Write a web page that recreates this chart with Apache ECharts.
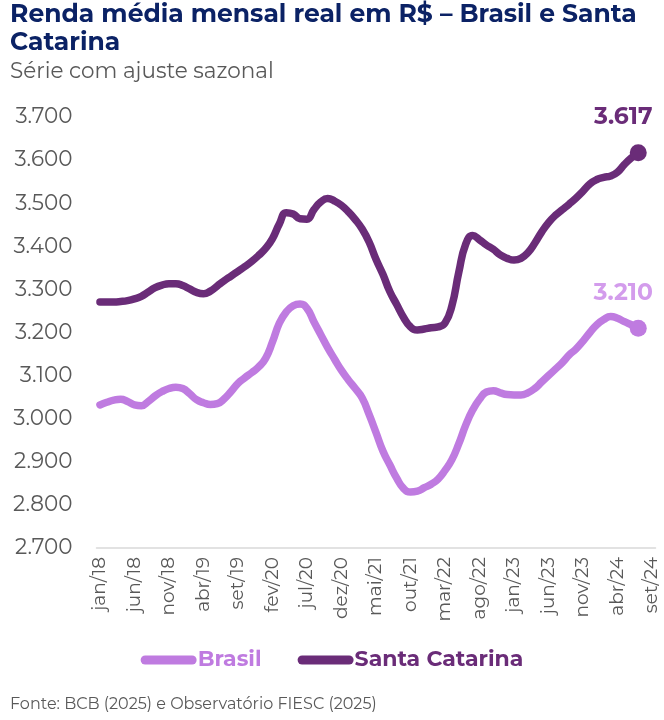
<!DOCTYPE html>
<html>
<head>
<meta charset="utf-8">
<script src="https://cdn.jsdelivr.net/npm/echarts@6/dist/echarts.min.js"></script>
<style>
html,body{margin:0;padding:0;background:#fff;}
#chart{width:664px;height:720px;}
</style>
</head>
<body>
<div id="chart"></div>
<script>
const monthNames = ['jan','fev','mar','abr','mai','jun','jul','ago','set','out','nov','dez'];
const startYear = 2018;
const categoryCount = 81; // jan/18 .. set/24
const categories = [];
for (let i = 0; i < categoryCount; i++) {
  const m = i % 12, y = startYear + Math.floor(i / 12);
  categories.push(monthNames[m] + '/' + String(y).slice(2));
}

const brasil = [
  3032,3038,3043,3045,3040,3032,3030,3040,3053,3063,3070,3073,
  3070,3058,3044,3037,3033,3035,3046,3063,3082,3095,3107,3120,
  3140,3178,3222,3248,3262,3266,3256,3225,3195,3165,3138,3112,
  3090,3070,3048,3010,2968,2925,2893,2862,2838,2830,2832,2840,
  2848,2860,2880,2905,2942,2985,3020,3045,3062,3065,3060,3056,
  3055,3055,3060,3070,3085,3100,3115,3130,3148,3162,3180,3200,
  3218,3230,3237,3233,3225,3218,3210
];
const santaCatarina = [
  3271,3271,3271,3272,3274,3278,3284,3294,3304,3310,3313,3313,
  3309,3301,3293,3290,3296,3308,3320,3331,3342,3353,3365,3379,
  3395,3418,3452,3478,3475,3464,3463,3485,3503,3511,3505,3495,
  3480,3462,3440,3410,3370,3335,3295,3265,3235,3213,3206,3208,
  3211,3213,3222,3262,3340,3405,3425,3415,3403,3393,3380,3372,
  3368,3372,3385,3407,3433,3455,3472,3485,3498,3512,3528,3545,
  3555,3560,3563,3572,3590,3605,3617
];
const yMin = 2700, yMax = 3700, yStep = 100;

const colorBR = '#bf7be0';
const colorBRLabel = '#d39cec';
const colorSC = '#6a2c78';
const fontFam = 'Montserrat, Inter, "Noto Sans", sans-serif';

function fmt(v){ return String(Math.round(v)).replace(/\B(?=(\d{3})+(?!\d))/g, '.'); }

const lastBR = brasil.length - 1, lastSC = santaCatarina.length - 1;

const chart = echarts.init(document.getElementById('chart'));
chart.setOption({
  animation: false,
  title: [
    {
      text: 'Renda média mensal real em R$ – Brasil e Santa\nCatarina',
      subtext: 'Série com ajuste sazonal',
      left: 10, top: 1, padding: 0,
      itemGap: 4,
      textStyle: {fontFamily: fontFam, fontSize: 25, fontWeight: 'bold', color: '#0b2265', lineHeight: 28},
      subtextStyle: {fontFamily: fontFam, fontSize: 21.5, color: '#595959'}
    },
    {
      text: 'Fonte: BCB (2025) e Observatório FIESC (2025)',
      left: 10, top: 696, padding: 0,
      textStyle: {fontFamily: fontFam, fontSize: 16, fontWeight: 'normal', color: '#595959'}
    }
  ],
  legend: {
    data: [
      {name: 'Brasil', textStyle: {color: colorBR}},
      {name: 'Santa Catarina', textStyle: {color: colorSC}}
    ],
    left: 'center', top: 644,
    itemWidth: 56, itemHeight: 9, itemGap: 36,
    icon: 'path://M4.5,0 L51.5,0 A4.5,4.5 0 0 1 51.5,9 L4.5,9 A4.5,4.5 0 0 1 4.5,0 Z',
    textStyle: {fontFamily: fontFam, fontSize: 22, fontWeight: 'bold', padding: [0,0,0,-4]}
  },
  grid: {left: 96.5, right: 8.5, top: 117, bottom: 172, containLabel: false},
  xAxis: {
    type: 'category',
    data: categories,
    boundaryGap: true,
    axisLine: {show: true, lineStyle: {color: '#d9d9d9', width: 1.5}},
    axisTick: {show: false},
    axisLabel: {interval: 4, rotate: 90, margin: 9, fontFamily: fontFam, fontSize: 18.5, color: '#595959'},
    splitLine: {show: false}
  },
  yAxis: {
    type: 'value',
    min: yMin, max: yMax, interval: yStep,
    axisLine: {show: false},
    axisTick: {show: false},
    splitLine: {show: false},
    axisLabel: {margin: 24, fontFamily: fontFam, fontSize: 21.5, color: '#595959', formatter: fmt}
  },
  series: [
    {
      name: 'Brasil', type: 'line', data: brasil, smooth: 0.5,
      showSymbol: false, symbol: 'none',
      lineStyle: {color: colorBR, width: 7.5, cap: 'round', join: 'round'},
      itemStyle: {color: colorBR}, z: 2
    },
    {
      name: 'Santa Catarina', type: 'line', data: santaCatarina, smooth: 0.5,
      showSymbol: false, symbol: 'none',
      lineStyle: {color: colorSC, width: 7.5, cap: 'round', join: 'round'},
      itemStyle: {color: colorSC}, z: 3
    },
    {
      name: 'BR fim', type: 'scatter', symbolSize: 17, z: 4,
      data: [[categories[lastBR], brasil[lastBR]]],
      itemStyle: {color: colorBR, opacity: 1},
      label: {show: true, position: 'top', offset: [-15, -10], formatter: p => fmt(p.value[1]),
        fontFamily: fontFam, fontSize: 23.5, fontWeight: 'bold', color: colorBRLabel}
    },
    {
      name: 'SC fim', type: 'scatter', symbolSize: 17, z: 5,
      data: [[categories[lastSC], santaCatarina[lastSC]]],
      itemStyle: {color: colorSC, opacity: 1},
      label: {show: true, position: 'top', offset: [-15, -10], formatter: p => fmt(p.value[1]),
        fontFamily: fontFam, fontSize: 23.5, fontWeight: 'bold', color: colorSC}
    }
  ]
});
</script>
</body>
</html>
